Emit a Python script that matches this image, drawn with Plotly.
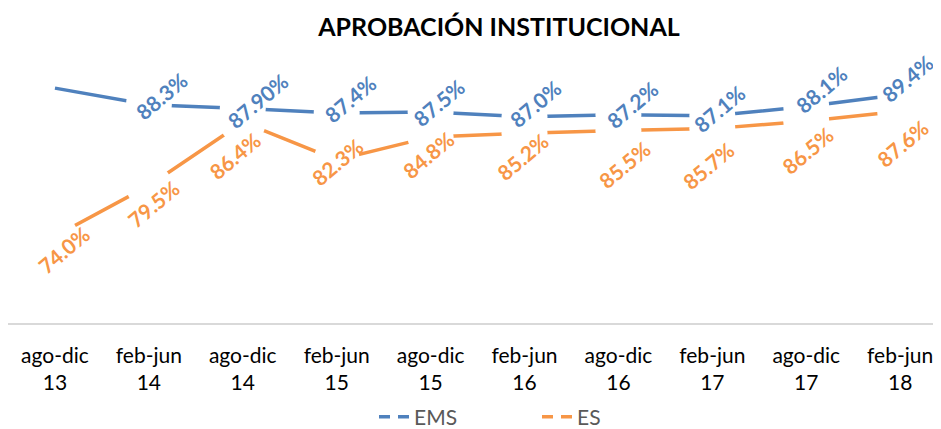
import plotly.graph_objects as go

# periods (category axis)
periods = ["ago-dic<br>13", "feb-jun<br>14", "ago-dic<br>14", "feb-jun<br>15", "ago-dic<br>15",
           "feb-jun<br>16", "ago-dic<br>16", "feb-jun<br>17", "ago-dic<br>17", "feb-jun<br>18"]

# approval rates (%)
ems = [90.1, 88.3, 87.9, 87.4, 87.5, 87.0, 87.2, 87.1, 88.1, 89.4]
es = [74.0, 79.5, 86.4, 82.3, 84.8, 85.2, 85.5, 85.7, 86.5, 87.6]

# data label texts (first EMS label was removed in the original)
ems_labels = ["", "88.3%", "87.90%", "87.4%", "87.5%", "87.0%", "87.2%", "87.1%", "88.1%", "89.4%"]
es_labels = ["74.0%", "79.5%", "86.4%", "82.3%", "84.8%", "85.2%", "85.5%", "85.7%", "86.5%", "87.6%"]

# hand placed label nudges in px (dx, dy up)
ems_nudge = [(0, 0), (13, 9), (15, 8), (14, 14), (8, 10), (11, 13), (14, 10), (7, 7), (15, 17), (7, 16)]
es_nudge = [(9, -13), (5, -18), (-8, -33), (1, -2), (-2, -18), (-2, -23), (6, -34), (-4, -37), (1, -29), (2, -32)]

BLUE = "#4F81BD"
ORANGE = "#F79646"
FONT = "Lato"

# the page body keeps its 8px default margin, so the figure is 8px smaller
W, H = 933, 421

fig = go.Figure()

fig.add_trace(go.Scatter(x=periods, y=ems, mode="lines", line=dict(color=BLUE, width=3.5),
                         showlegend=False, hoverinfo="skip"))
fig.add_trace(go.Scatter(x=periods, y=es, mode="lines", line=dict(color=ORANGE, width=3.5),
                         showlegend=False, hoverinfo="skip"))

# white knock-outs round the labelled points (the gaps in the lines)
fig.add_trace(go.Scatter(x=periods[1:] + periods, y=ems[1:] + es, mode="markers",
                         marker=dict(color="white", size=46, line=dict(width=0)),
                         showlegend=False, hoverinfo="skip"))

# legend entries with the dashed look
fig.add_trace(go.Scatter(x=[None], y=[None], mode="lines", name="EMS",
                         line=dict(color=BLUE, width=3.5, dash="11px,8px")))
fig.add_trace(go.Scatter(x=[None], y=[None], mode="lines", name="ES",
                         line=dict(color=ORANGE, width=3.5, dash="11px,8px")))

for labels, vals, nudge, col in [(ems_labels, ems, ems_nudge, BLUE), (es_labels, es, es_nudge, ORANGE)]:
    for p, v, t, (dx, dy) in zip(periods, vals, labels, nudge):
        if not t:
            continue
        fig.add_annotation(x=p, y=v, text=t, showarrow=False, textangle=-40,
                           xshift=dx, yshift=dy,
                           font=dict(family=FONT, size=21, color=col, weight="bold"))

fig.update_layout(
    width=W, height=H,
    margin=dict(l=0, r=0, t=52, b=106, autoexpand=False),
    paper_bgcolor="white", plot_bgcolor="white",
    title=dict(text="<b>APROBACIÓN INSTITUCIONAL</b>", x=491 / W, xanchor="center",
               y=1 - 19 / H, yanchor="middle",
               font=dict(family=FONT, size=25, color="black")),
    legend=dict(orientation="h", x=366 / W, xanchor="left", yref="container",
                y=12 / H, yanchor="middle", entrywidth=118,
                font=dict(family=FONT, size=21, color="#595959")),
    showlegend=True,
)

fig.update_xaxes(type="category", range=[-0.5, 9.435], showline=True, linecolor="#D9D9D9",
                 linewidth=1.5, showgrid=False, ticks="", ticklabelstandoff=13, automargin=False,
                 tickfont=dict(family=FONT, size=21, color="black"))
fig.update_yaxes(range=[64.57, 93.16], visible=False, showgrid=False, zeroline=False)

fig.write_html("out.html")
